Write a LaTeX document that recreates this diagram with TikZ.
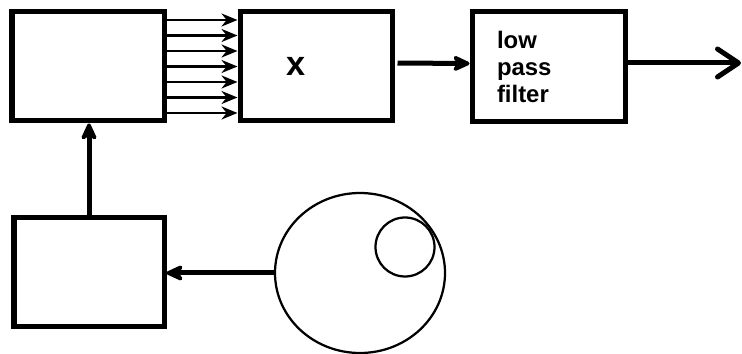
\documentclass[tikz,border=0pt]{standalone}
\usepackage{fontspec}
\setmainfont{Liberation Sans}
\usetikzlibrary{arrows.meta, shapes.geometric}

\begin{document}
\begin{tikzpicture}[
    block/.style={draw, line width=0.1cm, minimum width=3.04cm, minimum height=2.18cm, inner sep=0pt},
    bus/.style={-{Stealth[length=0.32cm, width=0.26cm]}, line width=0.05cm},
    sig/.style={-{Stealth[length=0.44cm, width=0.4cm, round]}, line width=0.1cm},
    outsig/.style={-{Straight Barb[length=0.42cm, width=0.56cm, round]}, line width=0.1cm},
    disc/.style={draw, line width=0.045cm, inner sep=0pt}
]
\useasboundingbox (0,0) rectangle (14.84,-7.08);

% Top row
\node[block] (osc) at (1.76,-1.33) {};
\node[block, text width=1.2cm, inner xsep=0.92cm, align=left,
      font=\fontsize{19.5}{22}\selectfont\bfseries] (mix) at (6.32,-1.33) {x};
\node[block, minimum width=3.06cm, minimum height=2.2cm, text width=2.06cm, inner xsep=0.5cm, align=left,
      font=\fontsize{13.6}{15.6}\selectfont\bfseries] (lpf) at (10.97,-1.34) {low\\pass\\filter};

% Bottom row
\node[block, minimum width=3.0cm] (drv) at (1.78,-5.45) {};
\node[disc, ellipse, minimum width=3.4cm, minimum height=3.2cm] (wheel) at (7.2,-5.46) {};
\node[disc, circle, minimum size=1.18cm] (hub) at (8.1,-4.94) {};

% Parallel lines
\foreach \dy in {-0.93,-0.62,-0.31,0,0.31,0.62,0.93} {
    \draw[bus] ([yshift=\dy cm]osc.east) -- ([yshift=\dy cm]mix.west);
}

% Signal path
\coordinate (out) at (14.82,-1.26);
\draw[sig, shorten <=0.06cm] ([yshift=0.07cm]mix.east) -- ([yshift=0.07cm]lpf.west);
\draw[outsig] (lpf.east |- out) -- (out);
\draw[sig] (drv.north) -- (drv.north |- osc.south);
\draw[sig] (wheel.west) -- (drv.east |- wheel.west);

\end{tikzpicture}
\end{document}
